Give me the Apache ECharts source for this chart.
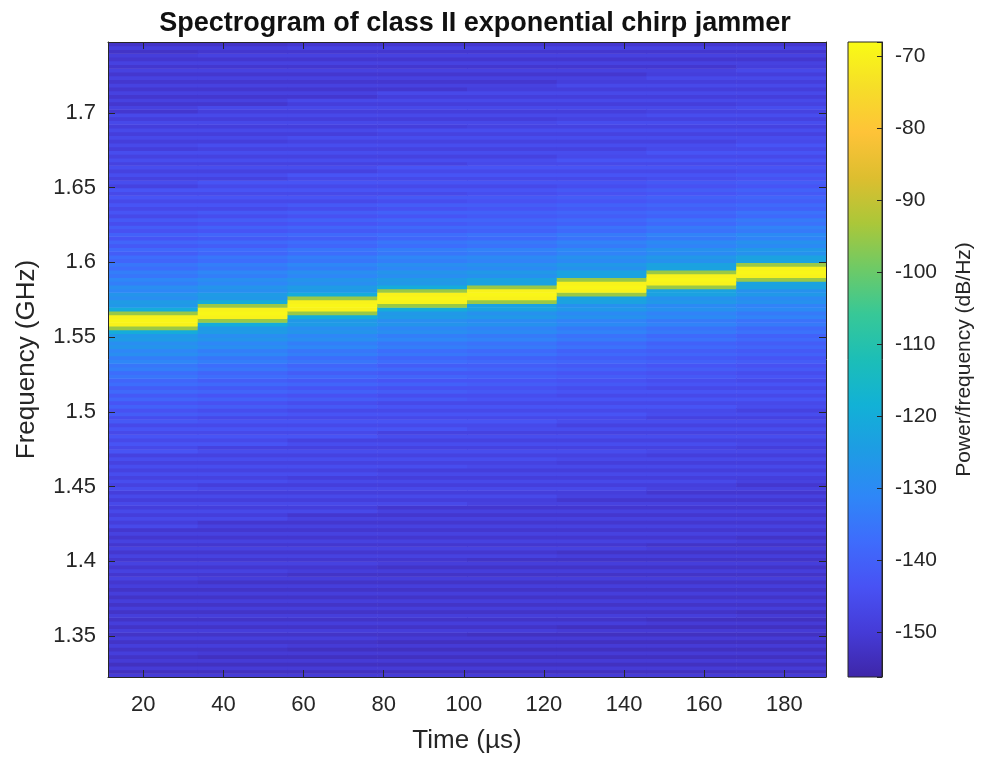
<!DOCTYPE html>
<html><head><meta charset="utf-8">
<script src="https://cdn.jsdelivr.net/npm/echarts@6/dist/echarts.min.js"></script>
<style>html,body{margin:0;padding:0;background:#fff}#c{width:981px;height:758px}</style>
</head><body><div id="c"></div>
<script>
// Time bins (µs): centres of the 8 spectrogram windows
const timeCenters = [22.4, 44.8, 67.2, 89.6, 112.0, 134.4, 156.8, 179.2];
const timeBinWidth = 22.4;
// Frequency bins (GHz)
const freqStart = 1.32375, freqStep = 0.0025, freqCount = 170;
// Power/frequency (dB/Hz), one array per time window, from lowest to highest frequency bin
const col1 = [
-150,-153,-150,-153,-150,-152,-149,-152,-149,-152,
-149,-152,-149,-152,-149,-152,-149,-152,-149,-152,
-149,-152,-149,-152,-149,-151,-148,-151,-148,-151,
-148,-151,-148,-151,-148,-151,-148,-151,-148,-151,
-146,-149,-146,-149,-146,-149,-146,-149,-146,-149,
-145,-148,-145,-148,-145,-148,-145,-148,-145,-148,
-143,-146,-143,-146,-143,-146,-143,-146,-142,-145,
-141,-144,-140,-143,-139,-142,-138,-141,-137,-139,
-135,-137,-133,-135,-131,-133,-129,-131,-127,-129,
-125,-126,-120,-95,-70,-69,-70,-95,-120,-126,
-125,-129,-127,-131,-129,-133,-131,-135,-133,-137,
-135,-139,-137,-141,-138,-142,-139,-143,-140,-144,
-141,-145,-142,-146,-143,-146,-143,-146,-143,-146,
-143,-148,-145,-148,-145,-148,-145,-148,-145,-148,
-145,-149,-146,-149,-146,-149,-146,-149,-146,-149,
-146,-151,-148,-151,-148,-151,-148,-151,-148,-151,
-148,-151,-148,-151,-148,-151,-149,-152,-149,-152];
const col2 = [
-150,-153,-150,-153,-150,-153,-150,-152,-149,-152,
-149,-152,-149,-152,-149,-152,-149,-152,-149,-152,
-149,-152,-149,-152,-149,-152,-149,-151,-148,-151,
-148,-151,-148,-151,-148,-151,-148,-151,-148,-151,
-148,-151,-146,-149,-146,-149,-146,-149,-146,-149,
-146,-149,-145,-148,-145,-148,-145,-148,-145,-148,
-145,-148,-143,-146,-143,-146,-143,-146,-143,-146,
-142,-145,-141,-144,-140,-143,-139,-142,-138,-141,
-137,-139,-135,-137,-133,-135,-131,-133,-129,-131,
-127,-129,-125,-126,-120,-95,-70,-69,-70,-95,
-120,-126,-125,-129,-127,-131,-129,-133,-131,-135,
-133,-137,-135,-139,-137,-141,-138,-142,-139,-143,
-140,-144,-141,-145,-142,-146,-143,-146,-143,-146,
-143,-146,-143,-148,-145,-148,-145,-148,-145,-148,
-145,-148,-145,-149,-146,-149,-146,-149,-146,-149,
-146,-149,-146,-151,-148,-151,-148,-151,-148,-151,
-148,-151,-148,-151,-148,-151,-148,-151,-149,-152];
const col3 = [
-150,-153,-150,-153,-150,-153,-150,-153,-150,-152,
-149,-152,-149,-152,-149,-152,-149,-152,-149,-152,
-149,-152,-149,-152,-149,-152,-149,-152,-149,-151,
-148,-151,-148,-151,-148,-151,-148,-151,-148,-151,
-148,-151,-148,-151,-146,-149,-146,-149,-146,-149,
-146,-149,-146,-149,-145,-148,-145,-148,-145,-148,
-145,-148,-145,-148,-143,-146,-143,-146,-143,-146,
-143,-146,-142,-145,-141,-144,-140,-143,-139,-142,
-138,-141,-137,-139,-135,-137,-133,-135,-131,-133,
-129,-131,-127,-129,-125,-126,-120,-95,-70,-69,
-70,-95,-120,-126,-125,-129,-127,-131,-129,-133,
-131,-135,-133,-137,-135,-139,-137,-141,-138,-142,
-139,-143,-140,-144,-141,-145,-142,-146,-143,-146,
-143,-146,-143,-146,-143,-148,-145,-148,-145,-148,
-145,-148,-145,-148,-145,-149,-146,-149,-146,-149,
-146,-149,-146,-149,-146,-151,-148,-151,-148,-151,
-148,-151,-148,-151,-148,-151,-148,-151,-148,-151];
const col4 = [
-150,-153,-150,-153,-150,-153,-150,-153,-150,-153,
-150,-152,-149,-152,-149,-152,-149,-152,-149,-152,
-149,-152,-149,-152,-149,-152,-149,-152,-149,-152,
-149,-151,-148,-151,-148,-151,-148,-151,-148,-151,
-148,-151,-148,-151,-148,-151,-146,-149,-146,-149,
-146,-149,-146,-149,-146,-149,-145,-148,-145,-148,
-145,-148,-145,-148,-145,-148,-143,-146,-143,-146,
-143,-146,-143,-146,-142,-145,-141,-144,-140,-143,
-139,-142,-138,-141,-137,-139,-135,-137,-133,-135,
-131,-133,-129,-131,-127,-129,-125,-126,-120,-95,
-70,-69,-70,-95,-120,-126,-125,-129,-127,-131,
-129,-133,-131,-135,-133,-137,-135,-139,-137,-141,
-138,-142,-139,-143,-140,-144,-141,-145,-142,-146,
-143,-146,-143,-146,-143,-146,-143,-148,-145,-148,
-145,-148,-145,-148,-145,-148,-145,-149,-146,-149,
-146,-149,-146,-149,-146,-149,-146,-151,-148,-151,
-148,-151,-148,-151,-148,-151,-148,-151,-148,-151];
const col5 = [
-150,-153,-150,-153,-150,-153,-150,-153,-150,-153,
-150,-153,-149,-152,-149,-152,-149,-152,-149,-152,
-149,-152,-149,-152,-149,-152,-149,-152,-149,-152,
-149,-152,-148,-151,-148,-151,-148,-151,-148,-151,
-148,-151,-148,-151,-148,-151,-148,-149,-146,-149,
-146,-149,-146,-149,-146,-149,-146,-148,-145,-148,
-145,-148,-145,-148,-145,-148,-145,-146,-143,-146,
-143,-146,-143,-146,-143,-145,-142,-144,-141,-143,
-140,-142,-139,-141,-138,-140,-136,-138,-134,-136,
-132,-134,-130,-132,-128,-130,-126,-128,-123,-123,
-95,-70,-69,-70,-95,-123,-123,-128,-126,-130,
-128,-132,-130,-134,-132,-136,-134,-138,-136,-140,
-138,-141,-139,-142,-140,-143,-141,-144,-142,-145,
-143,-146,-143,-146,-143,-146,-143,-146,-145,-148,
-145,-148,-145,-148,-145,-148,-145,-148,-146,-149,
-146,-149,-146,-149,-146,-149,-146,-149,-148,-151,
-148,-151,-148,-151,-148,-151,-148,-151,-148,-151];
const col6 = [
-150,-153,-150,-153,-150,-153,-150,-153,-150,-153,
-150,-153,-150,-153,-149,-152,-149,-152,-149,-152,
-149,-152,-149,-152,-149,-152,-149,-152,-149,-152,
-149,-152,-149,-152,-148,-151,-148,-151,-148,-151,
-148,-151,-148,-151,-148,-151,-148,-151,-148,-149,
-146,-149,-146,-149,-146,-149,-146,-149,-146,-148,
-145,-148,-145,-148,-145,-148,-145,-148,-145,-146,
-143,-146,-143,-146,-143,-146,-143,-145,-142,-144,
-141,-143,-140,-142,-139,-141,-138,-140,-136,-138,
-134,-136,-132,-134,-130,-132,-128,-130,-126,-128,
-123,-123,-95,-70,-69,-70,-95,-123,-123,-128,
-126,-130,-128,-132,-130,-134,-132,-136,-134,-138,
-136,-140,-138,-141,-139,-142,-140,-143,-141,-144,
-142,-145,-143,-146,-143,-146,-143,-146,-143,-146,
-145,-148,-145,-148,-145,-148,-145,-148,-145,-148,
-146,-149,-146,-149,-146,-149,-146,-149,-146,-149,
-148,-151,-148,-151,-148,-151,-148,-151,-148,-151];
const col7 = [
-150,-153,-150,-153,-150,-153,-150,-153,-150,-153,
-150,-153,-150,-153,-150,-153,-149,-152,-149,-152,
-149,-152,-149,-152,-149,-152,-149,-152,-149,-152,
-149,-152,-149,-152,-149,-152,-148,-151,-148,-151,
-148,-151,-148,-151,-148,-151,-148,-151,-148,-151,
-148,-149,-146,-149,-146,-149,-146,-149,-146,-149,
-146,-148,-145,-148,-145,-148,-145,-148,-145,-148,
-145,-146,-143,-146,-143,-146,-143,-146,-143,-145,
-142,-144,-141,-143,-140,-142,-139,-141,-138,-140,
-136,-138,-134,-136,-132,-134,-130,-132,-128,-130,
-126,-128,-123,-123,-95,-70,-69,-70,-95,-123,
-123,-128,-126,-130,-128,-132,-130,-134,-132,-136,
-134,-138,-136,-140,-138,-141,-139,-142,-140,-143,
-141,-144,-142,-145,-143,-146,-143,-146,-143,-146,
-143,-146,-145,-148,-145,-148,-145,-148,-145,-148,
-145,-148,-146,-149,-146,-149,-146,-149,-146,-149,
-146,-149,-148,-151,-148,-151,-148,-151,-148,-151];
const col8 = [
-150,-153,-150,-153,-150,-153,-150,-153,-150,-153,
-150,-153,-150,-153,-150,-153,-150,-153,-149,-152,
-149,-152,-149,-152,-149,-152,-149,-152,-149,-152,
-149,-152,-149,-152,-149,-152,-149,-152,-148,-151,
-148,-151,-148,-151,-148,-151,-148,-151,-148,-151,
-148,-151,-148,-149,-146,-149,-146,-149,-146,-149,
-146,-149,-146,-148,-145,-148,-145,-148,-145,-148,
-145,-148,-145,-146,-143,-146,-143,-146,-143,-146,
-143,-145,-142,-144,-141,-143,-140,-142,-139,-141,
-138,-140,-136,-138,-134,-136,-132,-134,-130,-132,
-128,-130,-126,-128,-123,-123,-95,-70,-69,-70,
-95,-123,-123,-128,-126,-130,-128,-132,-130,-134,
-132,-136,-134,-138,-136,-140,-138,-141,-139,-142,
-140,-143,-141,-144,-142,-145,-143,-146,-143,-146,
-143,-146,-143,-146,-145,-148,-145,-148,-145,-148,
-145,-148,-145,-148,-146,-149,-146,-149,-146,-149,
-146,-149,-146,-149,-148,-151,-148,-151,-148,-151];
const columns = [col1, col2, col3, col4, col5, col6, col7, col8];

// Tick labels
const xTickLabels = [20, 40, 60, 80, 100, 120, 140, 160, 180];
const yTickLabels = [1.35, 1.4, 1.45, 1.5, 1.55, 1.6, 1.65, 1.7];
const cTickLabels = [-150, -140, -130, -120, -110, -100, -90, -80, -70];
const xRange = [11.2, 190.4];
const yRange = [1.3225, 1.7475];
const cRange = [-156.2, -68.0];

const parula = ['#3e26a8','#453bd7','#4852f4','#3e6cfc','#2e87f7','#1e9ce4','#12b1d6',
  '#1cbeb7','#37c897','#6eca66','#abc739','#ddbe2f','#fec338','#f6de28','#f9fb15'];

const table = [];
columns.forEach((col, c) => {
  if (col.length !== freqCount) console.error('column', c, 'has', col.length);
  col.forEach((v, r) => table.push([timeCenters[c], +(freqStart + r * freqStep).toFixed(5), v]));
});

const near = (list, v) => list.some(t => Math.abs(t - v) < 1e-6);
const axisColor = '#262626';
const font = 'Liberation Sans, Arial, Helvetica, sans-serif';
const lineCfg = {show: true, onZero: false, lineStyle: {color: axisColor, width: 1}};
const tickCfg = {show: true, inside: true, length: 7, lineStyle: {color: axisColor}};

const chart = echarts.init(document.getElementById('c'), null, {renderer: 'canvas'});
chart.setOption({
  backgroundColor: '#ffffff',
  animation: false,
  textStyle: {fontFamily: font},
  title: {
    text: 'Spectrogram of class II exponential chirp jammer',
    left: 470, top: 5, textAlign: 'center',
    textStyle: {fontSize: 27, fontWeight: 'bold', color: '#111', fontFamily: font}
  },
  grid: [
    {left: 108, right: 155, top: 42, bottom: 81, show: false, containLabel: false, outerBoundsMode: 'none'},
    {left: 848, width: 34, top: 42, bottom: 81, show: true, borderColor: axisColor, borderWidth: 1,
     containLabel: false, outerBoundsMode: 'none',
     backgroundColor: {type: 'linear', x: 0, y: 1, x2: 0, y2: 0,
       colorStops: parula.map((c, i) => ({offset: i / (parula.length - 1), color: c}))}}
  ],
  xAxis: [
    {gridIndex: 0, type: 'value', min: xRange[0], max: xRange[1], splitNumber: 9, z: 10,
     name: 'Time (µs)', nameLocation: 'middle', nameGap: 51,
     nameTextStyle: {fontSize: 26, color: axisColor, fontFamily: font},
     axisLine: lineCfg, axisTick: tickCfg,
     axisLabel: {fontSize: 22, color: axisColor, margin: 17, fontFamily: font,
       formatter: v => near(xTickLabels, v) ? String(Math.round(v)) : ''},
     splitLine: {show: false}},
    {gridIndex: 0, type: 'value', position: 'top', min: xRange[0], max: xRange[1], splitNumber: 9, z: 10,
     axisLine: lineCfg, axisTick: tickCfg,
     axisLabel: {show: false}, splitLine: {show: false}},
    {gridIndex: 1, type: 'value', min: 0, max: 1, show: false}
  ],
  yAxis: [
    {gridIndex: 0, type: 'value', min: yRange[0], max: yRange[1], splitNumber: 8, z: 10,
     name: 'Frequency (GHz)', nameLocation: 'middle', nameGap: 68, nameRotate: 90,
     nameTextStyle: {fontSize: 26, color: axisColor, fontFamily: font},
     axisLine: lineCfg, axisTick: tickCfg,
     axisLabel: {fontSize: 22, color: axisColor, margin: 12, fontFamily: font,
       formatter: v => near(yTickLabels, v) ? String(+v.toFixed(2)) : ''},
     splitLine: {show: false}},
    {gridIndex: 0, type: 'value', position: 'right', min: yRange[0], max: yRange[1], splitNumber: 8, z: 10,
     axisLine: lineCfg, axisTick: tickCfg,
     axisLabel: {show: false}, splitLine: {show: false}},
    {gridIndex: 1, type: 'value', position: 'right', min: cRange[0], max: cRange[1], splitNumber: 9, z: 10,
     name: 'Power/frequency (dB/Hz)', nameLocation: 'middle', nameGap: 72, nameRotate: 90,
     nameTextStyle: {fontSize: 21, color: axisColor, fontFamily: font},
     axisLine: lineCfg,
     axisTick: {show: true, inside: true, length: 5, lineStyle: {color: axisColor}},
     axisLabel: {fontSize: 21, color: axisColor, margin: 13, fontFamily: font,
       formatter: v => near(cTickLabels, v) ? String(Math.round(v)) : ''},
     splitLine: {show: false}}
  ],
  visualMap: {
    type: 'continuous', show: false, min: cRange[0], max: cRange[1], dimension: 2, seriesIndex: 0,
    inRange: {color: parula}
  },
  series: [{
    type: 'custom', xAxisIndex: 0, yAxisIndex: 0, clip: true, z: 2,
    encode: {x: 0, y: 1},
    data: table,
    renderItem: function (params, api) {
      const t = api.value(0), f = api.value(1);
      const p0 = api.coord([t - timeBinWidth / 2, f + freqStep / 2]);
      const p1 = api.coord([t + timeBinWidth / 2, f - freqStep / 2]);
      return {type: 'rect',
        shape: {x: p0[0], y: p0[1], width: p1[0] - p0[0] + 0.6, height: p1[1] - p0[1] + 0.6},
        style: {fill: api.visual('color')}};
    }
  }]
});
</script>
</body></html>
